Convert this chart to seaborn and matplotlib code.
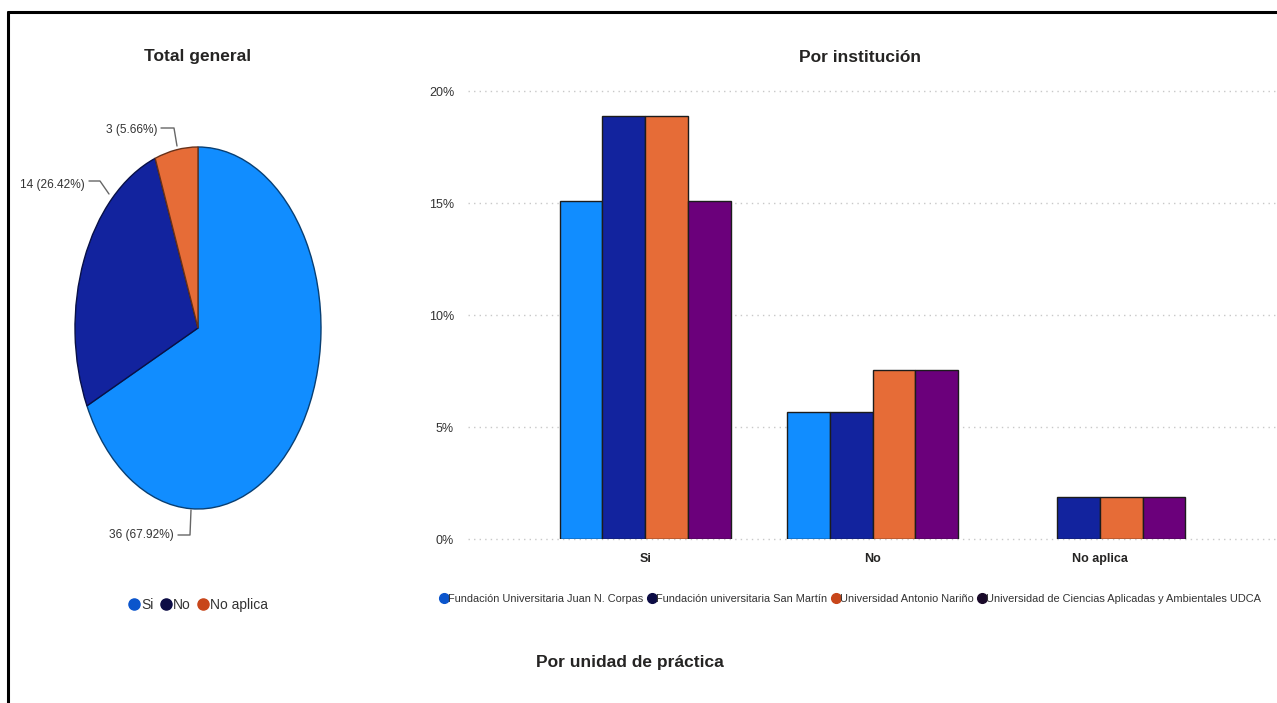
import matplotlib
matplotlib.use("Agg")
import matplotlib.pyplot as plt
import matplotlib.colors as mcolors
from matplotlib.lines import Line2D
import seaborn as sns
import pandas as pd
import numpy as np

# ---------------- data ----------------
pie_labels = ["Si", "No", "No aplica"]
pie_counts = [36, 14, 3]

answers = ["Si", "No", "No aplica"]
institutions = [
    "Fundación Universitaria Juan N. Corpas",
    "Fundación universitaria San Martín",
    "Universidad Antonio Nariño",
    "Universidad de Ciencias Aplicadas y Ambientales UDCA",
]
pct_corpas = [15.09, 5.66, np.nan]
pct_sanmartin = [18.87, 5.66, 1.89]
pct_narino = [18.87, 7.55, 1.89]
pct_udca = [15.09, 7.55, 1.89]

colors = ["#118DFF", "#12239E", "#E66C37", "#6B007B"]
legend_colors = ["#0B55CC", "#0C0C45", "#C8461A", "#1A0A2A"]
yticks = [0, 5, 10, 15, 20]

sns.set_theme(style="white")
FONT = ["Liberation Sans", "DejaVu Sans"]
plt.rcParams["font.family"] = FONT

W, H = 1277, 703
fig = plt.figure(figsize=(W / 100, H / 100), dpi=100)
fig.patch.set_facecolor("white")

def fx(px):
    return px / W

def fy(py):
    return 1 - py / H

# frame lines (top and left)
fig.add_artist(Line2D([fx(8), 1.0], [fy(12), fy(12)], color="black", lw=2.2))
fig.add_artist(Line2D([fx(8), fx(8)], [fy(12), 0.0], color="black", lw=2.2))

# ---------------- pie ----------------
cx, cy, rx, ry = 198, 328, 123, 181
axp = fig.add_axes([fx(cx - rx), fy(cy + ry), 2 * rx / W, 2 * ry / H])
wedges, _ = axp.pie(pie_counts, colors=colors[:3], startangle=90,
                    counterclock=False, radius=1.0)
for w, c in zip(wedges, colors[:3]):
    r, g, b = mcolors.to_rgb(c)
    w.set_edgecolor((r * 0.45, g * 0.45, b * 0.45))
    w.set_linewidth(1.0)
axp.set_aspect("auto")
axp.set_xlim(-1, 1)
axp.set_ylim(-1, 1)
axp.axis("off")

def d(px, py):
    return ((px - cx) / rx, (cy - py) / ry)

total = sum(pie_counts)
lab_txt = [f"{v} ({v / total * 100:.2f}%)" for v in pie_counts]
lab_pos = [(174, 535), (85, 185), (158, 130)]
leaders = [
    [(178, 535), (190, 535), (191, 510)],
    [(89, 181), (100, 181), (109, 194)],
    [(161, 128), (174, 128), (177, 146)],
]
for t, (px, py), pts in zip(lab_txt, lab_pos, leaders):
    x, y = d(px, py)
    axp.text(x, y, t, ha="right", va="center", fontsize=8.6, color="#333333",
             clip_on=False)
    xs, ys = zip(*[d(a, b) for a, b in pts])
    axp.plot(xs, ys, color="#666666", lw=1.0, clip_on=False)

fig.text(fx(198), fy(57), "Total general", ha="center", va="center",
         fontsize=12.5, fontweight="bold", color="#252423")

pie_handles = [Line2D([0], [0], marker="o", linestyle="", markersize=8,
                      markerfacecolor=c, markeredgecolor=c) for c in legend_colors[:3]]
fig.legend(pie_handles, pie_labels, loc="center left",
           bbox_to_anchor=(fx(120), fy(605)), ncol=3, frameon=False,
           fontsize=10, handletextpad=0.0, columnspacing=0.4,
           handlelength=1.0, borderpad=0, labelcolor="#333333")

# ---------------- bars ----------------
rows = []
for inst, vals in zip(institutions, [pct_corpas, pct_sanmartin, pct_narino, pct_udca]):
    for a, v in zip(answers, vals):
        rows.append({"Respuesta": a, "Institución": inst, "Porcentaje": v})
df = pd.DataFrame(rows)

axb = fig.add_axes([fx(468), fy(539), 1 - fx(468), (539 - 91) / H])
sns.barplot(data=df, x="Respuesta", y="Porcentaje", hue="Institución",
            order=answers, hue_order=institutions, palette=colors,
            width=0.754, saturation=1, edgecolor="#1c1c1c", linewidth=1.0,
            ax=axb, legend=False, errorbar=None, zorder=3)
axb.set_ylim(0, 20)
axb.set_xlim(-0.78, 2.78)
axb.set_yticks(yticks)
axb.set_yticklabels([f"{v}%" for v in yticks], fontsize=9, color="#333333")
axb.tick_params(axis="y", length=0, pad=10)
axb.tick_params(axis="x", length=0, pad=10)
for lbl in axb.get_xticklabels():
    lbl.set_fontweight("bold")
    lbl.set_fontsize(9)
    lbl.set_color("#252423")
for v in yticks:
    axb.axhline(v, color="#c8c8c8", lw=1.0, ls=(0, (1, 3)), zorder=1,
                clip_on=False)
axb.set_xlabel("")
axb.set_ylabel("")
for s in axb.spines.values():
    s.set_visible(False)
axb.set_facecolor("none")

fig.text(fx(860), fy(57), "Por institución", ha="center", va="center",
         fontsize=12.5, fontweight="bold", color="#252423")

bar_handles = [Line2D([0], [0], marker="o", linestyle="", markersize=7,
                      markerfacecolor=c, markeredgecolor=c) for c in legend_colors]
fig.legend(bar_handles, institutions, loc="center left",
           bbox_to_anchor=(fx(433), fy(599)), ncol=4, frameon=False,
           fontsize=7.9, handletextpad=-0.1, columnspacing=0.25,
           handlelength=1.0, borderpad=0, labelcolor="#333333")

fig.text(fx(630), fy(662), "Por unidad de práctica", ha="center", va="center",
         fontsize=12.5, fontweight="bold", color="#252423")

fig.savefig("out.png", dpi=100)
